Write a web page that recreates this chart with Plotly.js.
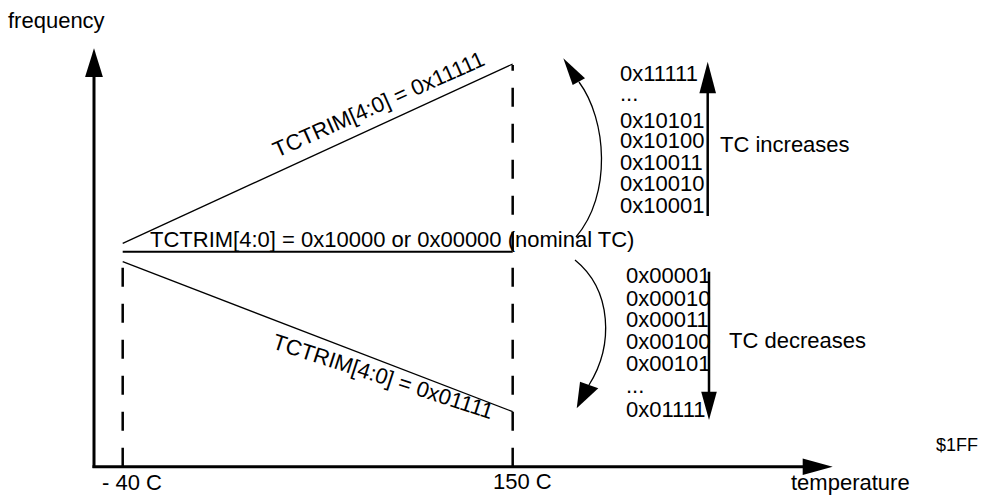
<!DOCTYPE html>
<html>
<head>
<meta charset="utf-8">
<script src="https://cdn.plot.ly/plotly-3.0.1.min.js"></script>
<style>
  html, body { margin: 0; padding: 0; background: #fff; }
  #chart { width: 990px; height: 495px; }
</style>
</head>
<body>
<div id="chart"></div>
<script>
// TCTRIM temperature-coefficient sketch: frequency vs temperature

const W = 990, H = 495;

// temperature span covered by the trim lines (deg C)
const tempPoints = [-40, 150];
const tempLabels = ['- 40 C', '150 C'];

// relative frequency at the two temperatures
const freqTrimUp = [0.84, 18.77];     // TCTRIM = 0x11111
const freqNominal = [0, 0];           // TCTRIM = 0x10000 / 0x00000
const freqTrimDown = [-1.0, -16.0];   // TCTRIM = 0x01111
const freqAxisBase = -21.5;           // where the temperature axis sits

const upperCodes = ['0x11111', '...', '0x10101', '0x10100', '0x10011', '0x10010', '0x10001'];
const lowerCodes = ['0x00001', '0x00010', '0x00011', '0x00100', '0x00101', '...', '0x01111'];

// vertical pixel positions of each code row
const upperCodeY = [73.7, 93.9, 120.3, 140.3, 162, 183.7, 205.3];
const lowerCodeY = [275.8, 298.2, 319.8, 341.5, 363.3, 385.5, 409.2];

const FONT = 'Liberation Sans, Arial, Helvetica, sans-serif';

// pixel -> paper helpers for the decorations
const px = x => x / W;
const py = y => 1 - y / H;
const P = (x, y) => `${px(x)},${py(y)}`;

function text(str, x, y, opts = {}) {
    return Object.assign({
        text: str, xref: 'paper', yref: 'paper', x: px(x), y: py(y),
        xanchor: 'left', yanchor: 'middle', showarrow: false,
        font: { family: FONT, size: 22, color: '#000' }
    }, opts);
}

const lineTrace = (y, width, dash) => ({
    x: tempPoints, y: y, type: 'scatter', mode: 'lines', hoverinfo: 'skip',
    line: { color: '#000', width: width, dash: dash || 'solid' }
});

const traces = [
    lineTrace(freqTrimUp, 1.3),
    lineTrace(freqNominal, 2),
    lineTrace(freqTrimDown, 1.3),
    // dashed temperature markers
    {
        x: [tempPoints[0], tempPoints[0]], y: [freqAxisBase, freqTrimDown[0]],
        type: 'scatter', mode: 'lines', hoverinfo: 'skip',
        line: { color: '#000', width: 2.5, dash: '19px,17px' }
    },
    {
        x: [tempPoints[1], tempPoints[1]], y: [freqAxisBase, freqTrimUp[1] - 0.1],
        type: 'scatter', mode: 'lines', hoverinfo: 'skip',
        line: { color: '#000', width: 2.5, dash: '19px,17px' }
    }
];

const tri = (a, b, c) => ({
    type: 'path', xref: 'paper', yref: 'paper',
    path: `M ${P(...a)} L ${P(...b)} L ${P(...c)} Z`,
    fillcolor: '#000', line: { width: 0 }
});
const seg = (a, b, w) => ({
    type: 'path', xref: 'paper', yref: 'paper',
    path: `M ${P(...a)} L ${P(...b)}`, line: { color: '#000', width: w }
});
const curve = (p0, p1, p2, p3) => ({
    type: 'path', xref: 'paper', yref: 'paper',
    path: `M ${P(...p0)} C ${P(...p1)} ${P(...p2)} ${P(...p3)}`,
    line: { color: '#000', width: 1.3 }
});

const shapes = [
    // frequency axis
    seg([94, 468], [94, 76], 3),
    tri([94, 48.3], [85.1, 77], [102.9, 77]),
    // temperature axis
    seg([92.5, 466.7], [803, 466.7], 3),
    tri([832.7, 466.7], [802.7, 458.4], [802.7, 475]),
    // TC increases arrow
    seg([707.7, 216], [707.7, 92], 2.5),
    tri([707.7, 61.7], [699.4, 93.3], [716, 93.3]),
    // TC decreases arrow
    seg([709, 271.7], [709, 393], 2.5),
    tri([709, 420], [701.2, 391.7], [716.8, 391.7]),
    // curved arrows
    curve([576, 237], [612, 195], [607, 120], [579, 82]),
    tri([563.3, 58.3], [572.7, 85], [585, 78.3]),
    curve([575, 260], [612, 290], [614, 345], [589, 385]),
    tri([576.7, 408.3], [580, 381.7], [598.3, 388.3])
];

const annotations = [
    text('frequency', 6, 20),
    text(tempLabels[0], 100, 482),
    text(tempLabels[1], 491, 481.5),
    text('temperature', 789, 482),
    text('$1FF', 934, 445.3, { font: { family: FONT, size: 18, color: '#000' } }),
    text('TCTRIM[4:0] = 0x10000 or 0x00000 (nominal TC)', 148, 239.5),
    text('TCTRIM[4:0] = 0x11111', 378, 104, { xanchor: 'center', textangle: -24 }),
    text('TCTRIM[4:0] = 0x01111', 383, 376, { xanchor: 'center', textangle: 18 }),
    text('TC increases', 718, 144.7),
    text('TC decreases', 727, 340.3)
];
upperCodes.forEach((c, i) => annotations.push(text(c, 618, upperCodeY[i])));
lowerCodes.forEach((c, i) => annotations.push(text(c, 624, lowerCodeY[i])));

const layout = {
    width: W, height: H,
    margin: { l: 0, r: 0, t: 0, b: 0 },
    paper_bgcolor: '#fff', plot_bgcolor: '#fff',
    showlegend: false,
    xaxis: { range: [-99.78, 382.54], visible: false, fixedrange: true },
    yaxis: { range: [-24.33, 25.17], visible: false, fixedrange: true },
    shapes: shapes,
    annotations: annotations
};

Plotly.newPlot('chart', traces, layout, { displayModeBar: false, staticPlot: true });
</script>
</body>
</html>
